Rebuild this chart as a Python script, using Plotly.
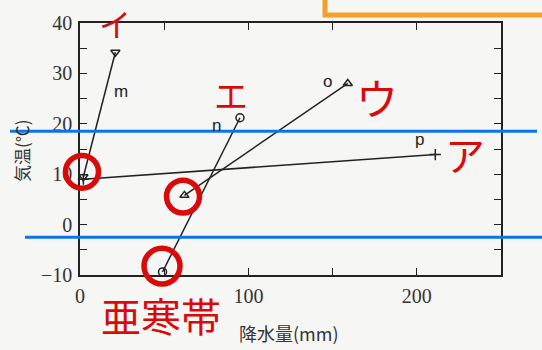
"""
Klimagraph (気温 vs 降水量) mit roten Markierungen und blauen Grenzlinien.
"""

import plotly.graph_objects as go

# Daten: je Station kältester / wärmster Monat (降水量 mm, 気温 ℃)
m_precip = [2, 21]
m_temp = [9.5, 34.2]
n_precip = [49, 95]
n_temp = [-9.4, 21.2]
o_precip = [62, 159]
o_temp = [5.8, 28]
p_precip = [2, 211]
p_temp = [9, 13.9]

x_ticks = [0, 100, 200]
y_ticks = [-10, 0, 10, 20, 30, 40]
y_ticktext = ["−10", "0", "10", "20", "30", "40"]

LINE = "#222222"
RED = "#d90a0a"
BLUE = "#0b74ec"
ORANGE = "#f5a029"
BG = "#f6f6f4"

W, H = 542, 350
L, R, T, B = 80, 41, 21, 75


def px(x):
    """Pixel-x -> paper-x."""
    return (x - L) / (W - L - R)


def py(y):
    """Pixel-y -> paper-y."""
    return (H - B - y) / (H - T - B)


fig = go.Figure()


def station(xs, ys, symbol):
    fig.add_trace(go.Scatter(
        x=xs, y=ys, mode="lines+markers",
        line={"color": LINE, "width": 1.5},
        marker={"symbol": symbol, "size": 8, "color": LINE,
                "line": {"color": LINE, "width": 1.5}},
        showlegend=False, cliponaxis=False,
    ))


station(m_precip, m_temp, "triangle-down-open")
station(n_precip, n_temp, "circle-open")
station(o_precip, o_temp, "triangle-up-open")
station(p_precip, p_temp, "cross-thin-open")

annotations = []


def text_at(x, y, txt, font, **kw):
    annotations.append(dict(x=px(x), y=py(y), xref="paper", yref="paper", text=txt,
                            showarrow=False, xanchor="center", yanchor="middle",
                            font=font, **kw))


# Stationsnamen
for txt, x, y in [("m", 121, 90), ("n", 216, 124), ("o", 327, 80), ("p", 419, 138)]:
    text_at(x, y, txt, {"family": "Liberation Sans", "size": 17, "color": LINE})

# Achsentitel
text_at(289, 333, "降水量(mm)", {"family": "Noto Sans CJK JP", "size": 18, "color": "#333"})
text_at(22, 150, "気温(℃)", {"family": "Noto Sans CJK JP", "size": 17, "color": "#333"},
        textangle=-90)

# rote Handschrift
for txt, x, y, size in [("イ", 115, 21, 32), ("エ", 231, 93, 34), ("ウ", 377, 95, 42),
                        ("ア", 465, 153, 40), ("亜寒帯", 161, 315, 40)]:
    text_at(x, y, txt, {"family": "Noto Sans CJK JP", "size": size, "color": RED})

shapes = []
# blaue Linien
for y, x0, x1 in [(130, 10, 537), (237, 25, 545)]:
    shapes.append(dict(type="line", xref="paper", yref="paper",
                       x0=px(x0), x1=px(x1), y0=py(y), y1=py(y),
                       line={"color": BLUE, "width": 3}))
# rote Kreise
for cx, cy, r in [(82, 171, 16.5), (183, 196, 16.5), (162, 266, 18)]:
    shapes.append(dict(type="circle", xref="paper", yref="paper",
                       x0=px(cx - r), x1=px(cx + r), y0=py(cy + r), y1=py(cy - r),
                       line={"color": RED, "width": 5.5}))
# orangener Rahmen oben rechts
shapes.append(dict(type="rect", xref="paper", yref="paper",
                   x0=px(325), x1=px(560), y0=py(13), y1=py(-20),
                   line={"color": ORANGE, "width": 5}))

axis_common = dict(
    showline=True, linecolor=LINE, linewidth=1.5, mirror="ticks",
    ticks="inside", ticklen=7, tickcolor=LINE, tickwidth=1.2,
    showgrid=False, zeroline=False,
    tickfont={"family": "Liberation Serif", "size": 20, "color": "#333"},
)

fig.update_layout(
    width=W, height=H,
    margin=dict(l=L, r=R, t=T, b=B),
    paper_bgcolor=BG, plot_bgcolor=BG,
    showlegend=False,
    xaxis=dict(range=[0, 250], tickvals=x_ticks, ticklabelstandoff=2,
               minor=dict(ticks="inside", dtick=50, ticklen=7, tickcolor=LINE),
               **axis_common),
    yaxis=dict(range=[-10, 40], tickvals=y_ticks, ticktext=y_ticktext, ticklabelstandoff=2,
               minor=dict(ticks="inside", dtick=5, ticklen=7, tickcolor=LINE),
               **axis_common),
    annotations=annotations,
    shapes=shapes,
)

fig.write_html("out.html", config={"displayModeBar": False},
               post_script="document.body.style.margin='0';")
